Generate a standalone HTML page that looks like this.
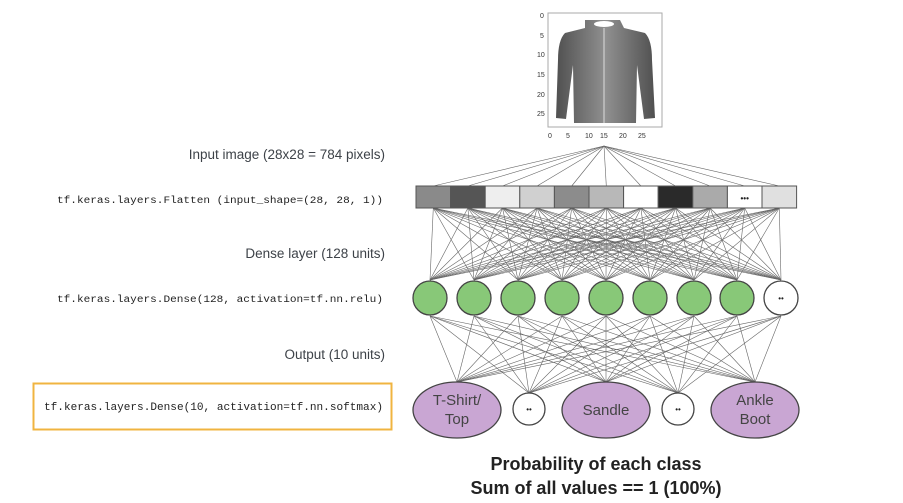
<!DOCTYPE html>
<html><head><meta charset="utf-8"><style>
html,body{margin:0;padding:0;background:#fff;width:903px;height:503px;overflow:hidden}
svg{display:block}
.h{font-family:"Liberation Sans",sans-serif;font-size:13.5px;fill:#3d4248;text-anchor:end}
.c{font-family:"Liberation Mono",monospace;fill:#222}
.ax{font-family:"Liberation Sans",sans-serif;font-size:7px;fill:#333}
.o{font-family:"Liberation Sans",sans-serif;font-size:15px;fill:#444;text-anchor:middle}
.b{font-family:"Liberation Sans",sans-serif;font-size:18px;font-weight:bold;fill:#222;text-anchor:middle}
</style></head><body>
<svg id="s" width="903" height="503" viewBox="0 0 903 503" xmlns="http://www.w3.org/2000/svg">
<defs><linearGradient id="g" x1="0" x2="1"><stop offset="0" stop-color="#505050"/><stop offset="0.5" stop-color="#909090"/><stop offset="1" stop-color="#505050"/></linearGradient></defs>
<g id="lines" stroke="#666" stroke-width="0.6" fill="none"></g>
<!-- image -->
<rect x="548" y="13" width="114" height="114" fill="#fff" stroke="#aaa" stroke-width="1"/>
<path d="M585 20 L620 20 L624 28 L645 33 Q652 40 652 60 L655 118 L644 119 L637 65 L636 123 L574 123 L573 65 L566 119 L556 118 L558 60 Q558 40 565 33 L585 28 Z" fill="url(#g)"/>
<ellipse cx="604" cy="24" rx="10" ry="3" fill="#fff"/>
<line x1="604" y1="28" x2="604" y2="123" stroke="#ddd" stroke-width="1"/>
<text class="ax" x="540" y="18">0</text><text class="ax" x="540" y="38">5</text><text class="ax" x="537" y="57">10</text><text class="ax" x="537" y="77">15</text><text class="ax" x="537" y="97">20</text><text class="ax" x="537" y="116">25</text>
<text class="ax" x="548" y="138">0</text><text class="ax" x="566" y="138">5</text><text class="ax" x="585" y="138">10</text><text class="ax" x="600" y="138">15</text><text class="ax" x="619" y="138">20</text><text class="ax" x="638" y="138">25</text>
<g id="cells"></g>
<g id="nodes"></g>
<text class="h" x="385" y="159">Input image (28x28 = 784 pixels)</text>
<text class="c" x="57" y="203" font-size="10" textLength="326" lengthAdjust="spacingAndGlyphs">tf.keras.layers.Flatten (input_shape=(28, 28, 1))</text>
<text class="h" x="385" y="258">Dense layer (128 units)</text>
<text class="c" x="57" y="302" font-size="10" textLength="326" lengthAdjust="spacingAndGlyphs">tf.keras.layers.Dense(128, activation=tf.nn.relu)</text>
<text class="h" x="385" y="359">Output (10 units)</text>
<rect x="33.5" y="383.5" width="358" height="46" fill="none" stroke="#f0b440" stroke-width="2"/>
<text class="c" x="44" y="410" font-size="11" textLength="339" lengthAdjust="spacingAndGlyphs">tf.keras.layers.Dense(10, activation=tf.nn.softmax)</text>
<text class="b" x="596" y="470">Probability of each class</text>
<text class="b" x="596" y="494">Sum of all values == 1 (100%)</text>
</svg>
<script>
var NS="http://www.w3.org/2000/svg";
function el(p,t,a){var e=document.createElementNS(NS,t);for(var k in a)e.setAttribute(k,a[k]);p.appendChild(e);return e;}
var L=document.getElementById('lines'),C=document.getElementById('cells'),N=document.getElementById('nodes');
var cols=["#8a8a8a","#555","#eee","#d0d0d0","#8c8c8c","#b8b8b8","#fff","#2a2a2a","#aaa","#fff","#e0e0e0"];
var x0=416,w=34.6,cx=[];
for(var i=0;i<11;i++){cx.push(x0+w*i+w/2);el(C,'rect',{x:x0+w*i,y:186,width:w,height:22,fill:cols[i],stroke:"#555","stroke-width":1});
 el(L,'line',{x1:604,y1:146,x2:x0+w*i+w/2,y2:186});}
var t=el(C,'text',{x:cx[9],y:201,"text-anchor":"middle","font-family":"Liberation Sans","font-size":"13","font-weight":"bold",fill:"#222"});t.textContent="•••";t.setAttribute('font-size','8');
var hx=[430,474,518,562,606,650,694,737,781];
for(var i=0;i<11;i++)for(var j=0;j<9;j++)el(L,'line',{x1:cx[i],y1:208,x2:hx[j],y2:280});
var ox=[457,529,606,678,755],otop=[382,393,382,393,382];
for(var j=0;j<9;j++)for(var k=0;k<5;k++)el(L,'line',{x1:hx[j],y1:316,x2:ox[k],y2:otop[k]});
for(var j=0;j<9;j++){el(N,'circle',{cx:hx[j],cy:298,r:17,fill:j<8?"#88c878":"#fff",stroke:"#444","stroke-width":1.3});}
var d=el(N,'text',{x:781,y:301,"text-anchor":"middle","font-family":"Liberation Sans","font-size":"8","fill":"#222"});d.textContent="••";
var labs=[["T-Shirt/","Top"],null,[["Sandle"]],null,["Ankle","Boot"]];
for(var k=0;k<5;k++){
 if(k%2==0){el(N,'ellipse',{cx:ox[k],cy:410,rx:44,ry:28,fill:"#c9a6d3",stroke:"#444","stroke-width":1.3});}
 else{el(N,'circle',{cx:ox[k],cy:409,r:16,fill:"#fff",stroke:"#444","stroke-width":1.3});var q=el(N,'text',{x:ox[k],y:412,"text-anchor":"middle","font-family":"Liberation Sans","font-size":"8",fill:"#222"});q.textContent="••";}
}
function ot(x,y,s){var e=el(N,'text',{x:x,y:y,"class":"o"});e.textContent=s;}
ot(457,405,"T-Shirt/");ot(457,424,"Top");ot(606,415,"Sandle");ot(755,405,"Ankle");ot(755,424,"Boot");
</script>
</body></html>
